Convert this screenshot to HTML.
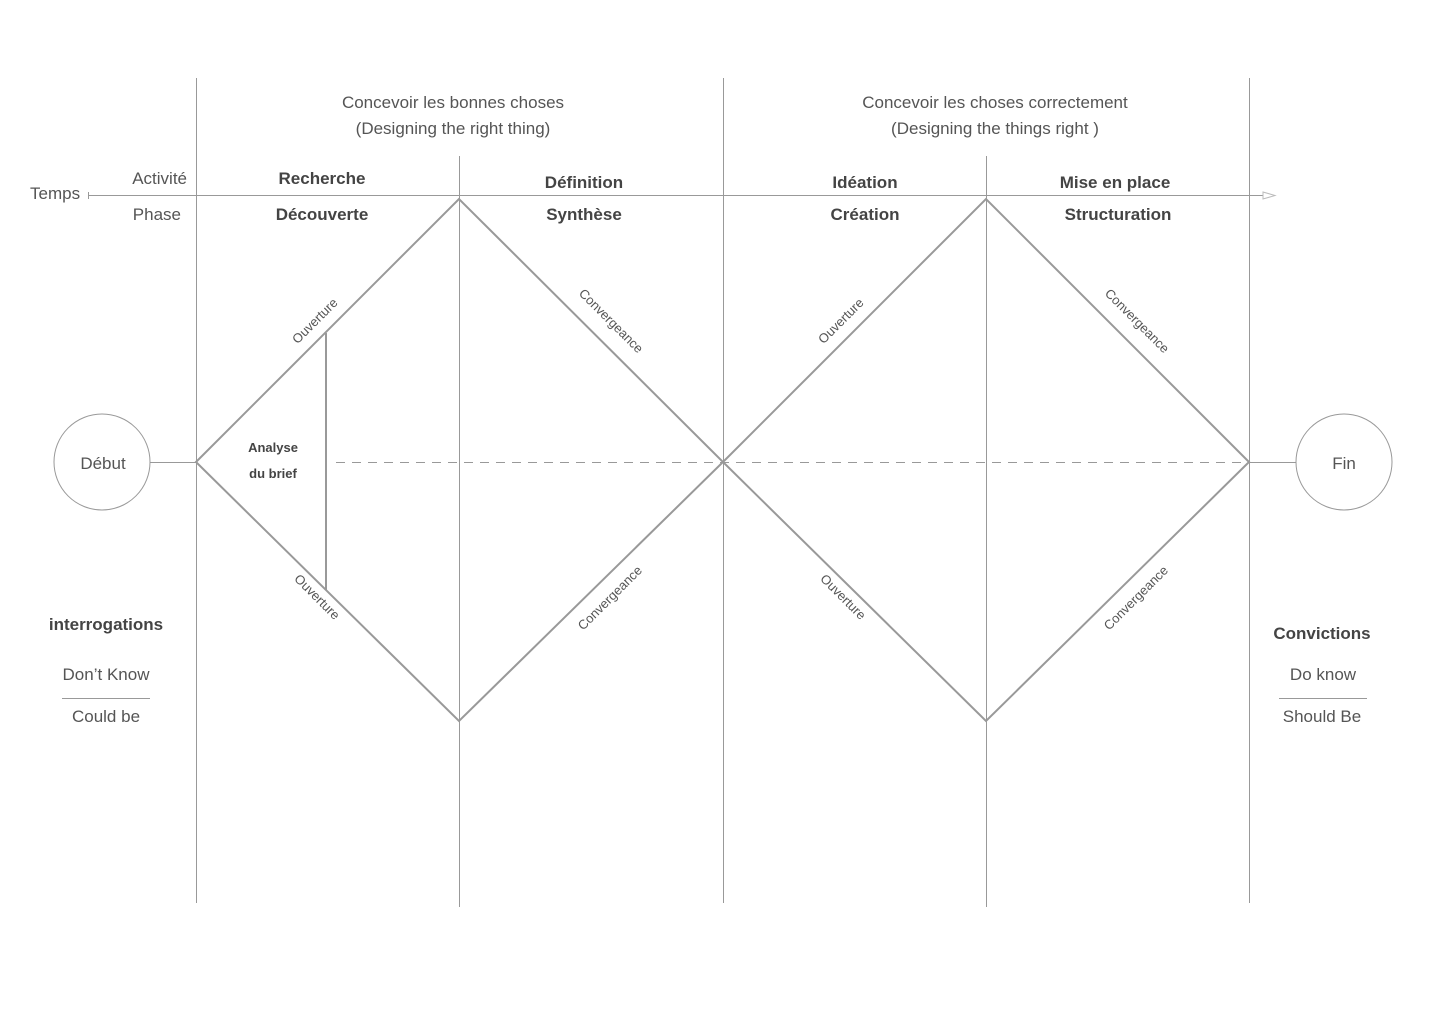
<!DOCTYPE html>
<html><head><meta charset="utf-8"><style>
html,body{margin:0;padding:0;background:#fff;}
svg{display:block;}
text{font-family:"Liberation Sans",sans-serif;fill:#555;}
.b{font-weight:bold;fill:#444;}
</style></head><body>
<svg width="1440" height="1024" viewBox="0 0 1440 1024" xmlns="http://www.w3.org/2000/svg">
<g stroke="#999" stroke-width="1" fill="none">
<line x1="196.5" y1="78" x2="196.5" y2="903"/>
<line x1="459.5" y1="156" x2="459.5" y2="907"/>
<line x1="723.5" y1="78" x2="723.5" y2="903"/>
<line x1="986.5" y1="156" x2="986.5" y2="907"/>
<line x1="1249.5" y1="78" x2="1249.5" y2="903"/>
<line x1="88" y1="195.5" x2="1263" y2="195.5"/>
<line x1="88.5" y1="192" x2="88.5" y2="199"/>
<path d="M1263 192 L1275 195.5 L1263 199 Z" stroke="#bbb"/>
<line x1="150" y1="462.5" x2="196" y2="462.5"/>
<line x1="1249" y1="462.5" x2="1296" y2="462.5"/>
<circle cx="102" cy="462" r="48"/>
<circle cx="1344" cy="462" r="48"/>
<line x1="336" y1="462.5" x2="1249" y2="462.5" stroke-dasharray="9,7"/>
<line x1="62" y1="698.5" x2="150" y2="698.5"/>
<line x1="1279" y1="698.5" x2="1367" y2="698.5"/>
</g>
<g stroke="#999" stroke-width="2" fill="none">
<path d="M196 462 L459 199 L723 462 L459 721 Z"/>
<path d="M723 462 L986 199 L1249 462 L986 721 Z"/>
<line x1="326" y1="333" x2="326" y2="590"/>
</g>
<g font-size="17">
<text x="453" y="108" text-anchor="middle">Concevoir les bonnes choses</text>
<text x="453" y="134" text-anchor="middle">(Designing the right thing)</text>
<text x="995" y="108" text-anchor="middle">Concevoir les choses correctement</text>
<text x="995" y="134" text-anchor="middle">(Designing the things right )</text>
<text x="187" y="184" text-anchor="end">Activité</text>
<text x="181" y="220" text-anchor="end">Phase</text>
<text x="30" y="199">Temps</text>
<text x="103" y="469" text-anchor="middle">Début</text>
<text x="1344" y="469" text-anchor="middle">Fin</text>
<text x="106" y="680" text-anchor="middle">Don’t Know</text>
<text x="106" y="722" text-anchor="middle">Could be</text>
<text x="1323" y="680" text-anchor="middle">Do know</text>
<text x="1322" y="722" text-anchor="middle">Should Be</text>
</g>
<g font-size="17" class="b">
<text class="b" x="322" y="184" text-anchor="middle">Recherche</text>
<text class="b" x="322" y="220" text-anchor="middle">Découverte</text>
<text class="b" x="584" y="188" text-anchor="middle">Définition</text>
<text class="b" x="584" y="220" text-anchor="middle">Synthèse</text>
<text class="b" x="865" y="188" text-anchor="middle">Idéation</text>
<text class="b" x="865" y="220" text-anchor="middle">Création</text>
<text class="b" x="1115" y="188" text-anchor="middle">Mise en place</text>
<text class="b" x="1118" y="220" text-anchor="middle">Structuration</text>
<text class="b" x="106" y="630" text-anchor="middle">interrogations</text>
<text class="b" x="1322" y="639" text-anchor="middle">Convictions</text>
</g>
<text class="b" x="273" y="452" font-size="13" text-anchor="middle">Analyse</text>
<text class="b" x="273" y="478" font-size="13" text-anchor="middle">du brief</text>
<g font-size="13">
<text transform="translate(318,324) rotate(-45)" text-anchor="middle">Ouverture</text>
<text transform="translate(608,324) rotate(45)" text-anchor="middle">Convergeance</text>
<text transform="translate(314,600) rotate(45)" text-anchor="middle">Ouverture</text>
<text transform="translate(613,601) rotate(-45)" text-anchor="middle">Convergeance</text>
<text transform="translate(844,324) rotate(-45)" text-anchor="middle">Ouverture</text>
<text transform="translate(1134,324) rotate(45)" text-anchor="middle">Convergeance</text>
<text transform="translate(840,600) rotate(45)" text-anchor="middle">Ouverture</text>
<text transform="translate(1139,601) rotate(-45)" text-anchor="middle">Convergeance</text>
</g>
</svg>
</body></html>
